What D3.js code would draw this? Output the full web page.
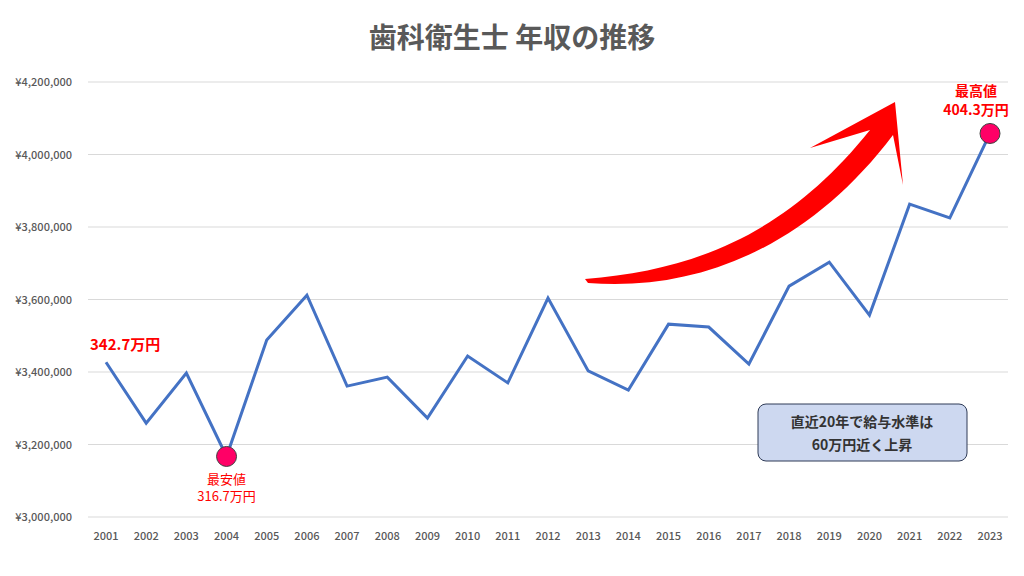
<!DOCTYPE html>
<html><head><meta charset="utf-8">
<script src="https://cdn.jsdelivr.net/npm/d3@7"></script>
<style>body{margin:0;background:#fff}text{font-family:"Noto Sans CJK JP","Noto Sans",sans-serif}</style>
</head><body><svg id="c" width="1024" height="576"></svg>
<script>
const years = d3.range(2001, 2024)
const salaries = [3427000,3259000,3397000,3167000,3488000,3612000,3361000,3386000,3273000,3444000,3370000,3604000,3403000,3350000,3532000,3524000,3422000,3637000,3703000,3557000,3863000,3825000,4058000]
const yTicks = [3000000,3200000,3400000,3600000,3800000,4000000,4200000]

const svg = d3.select("#c")
const x = d3.scalePoint().domain(years).range([106, 990])
const y = d3.scaleLinear().domain([3000000, 4200000]).range([517, 82])

svg.append("text").attr("x", 512).attr("y", 48).attr("text-anchor", "middle")
  .attr("font-size", 28).attr("font-weight", 700).attr("fill", "#595959").text("歯科衛生士 年収の推移")

// grid
svg.append("g").selectAll("line").data(yTicks).join("line")
  .attr("x1", 88).attr("x2", 1008).attr("y1", d => y(d)).attr("y2", d => y(d))
  .attr("stroke", "#d9d9d9")
svg.append("g").selectAll("text").data(yTicks).join("text")
  .attr("x", 72).attr("y", d => y(d) + 4).attr("text-anchor", "end")
  .attr("font-size", 11).attr("font-weight", 500).attr("fill", "#595959").text(d => "¥" + d3.format(",")(d))
svg.append("g").selectAll("text").data(years).join("text")
  .attr("x", d => x(d)).attr("y", 540).attr("text-anchor", "middle")
  .attr("font-size", 11).attr("font-weight", 500).attr("fill", "#595959").text(d => d)

// red arrow
svg.append("path")
  .attr("d", "M585,279 C700,270 790,230 870,130 L810,148 L895,102 L903,185 L893,135 C810,245 700,292 588,283 Z")
  .attr("fill", "#ff0000")

const line = d3.line().x((d, i) => x(years[i])).y(d => y(d))
svg.append("path").datum(salaries).attr("d", line)
  .attr("fill", "none").attr("stroke", "#4472c4").attr("stroke-width", 3)

const marks = [3, 22]
svg.append("g").selectAll("circle").data(marks).join("circle")
  .attr("cx", i => x(years[i])).attr("cy", i => y(salaries[i])).attr("r", 10)
  .attr("fill", "#ff0066").attr("stroke", "#404040").attr("stroke-width", 1)

const red = "#ff0000"
svg.append("text").attr("x", x(2001) - 16).attr("y", 350).attr("font-size", 15).attr("font-weight", 700).attr("fill", red).text("342.7万円")
svg.append("text").attr("x", x(2004)).attr("y", 484).attr("text-anchor", "middle").attr("font-size", 13).attr("fill", red).text("最安値")
svg.append("text").attr("x", x(2004)).attr("y", 501).attr("text-anchor", "middle").attr("font-size", 13).attr("fill", red).text("316.7万円")
svg.append("text").attr("x", x(2023) - 14).attr("y", 96).attr("text-anchor", "middle").attr("font-size", 14).attr("font-weight", 700).attr("fill", red).text("最高値")
svg.append("text").attr("x", x(2023) - 14).attr("y", 115).attr("text-anchor", "middle").attr("font-size", 14).attr("font-weight", 700).attr("fill", red).text("404.3万円")

svg.append("rect").attr("x", 758).attr("y", 404).attr("width", 209).attr("height", 57).attr("rx", 8)
  .attr("fill", "#cdd8f0").attr("stroke", "#2f3b57").attr("stroke-width", 1)
svg.append("text").attr("x", 862).attr("y", 427).attr("text-anchor", "middle").attr("font-size", 14).attr("font-weight", 700).attr("fill", "#333").text("直近20年で給与水準は")
svg.append("text").attr("x", 862).attr("y", 450).attr("text-anchor", "middle").attr("font-size", 14).attr("font-weight", 700).attr("fill", "#333").text("60万円近く上昇")
</script></body></html>
